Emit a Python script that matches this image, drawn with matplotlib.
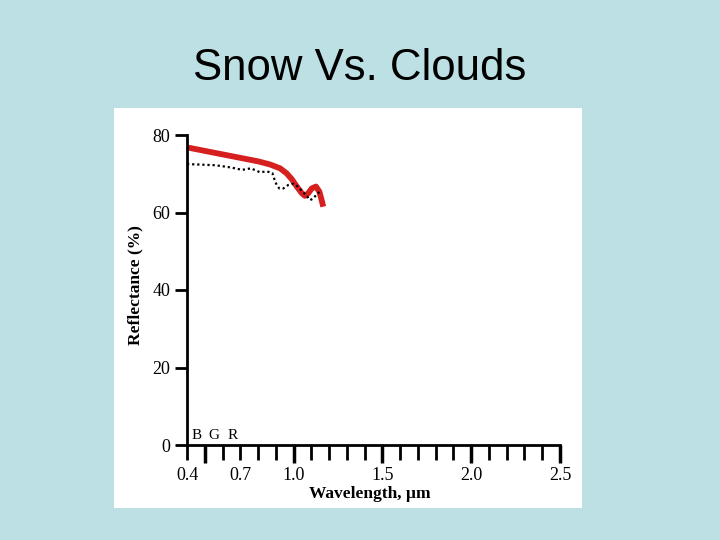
import numpy as np
import matplotlib
matplotlib.use('Agg')
import matplotlib.pyplot as plt
from matplotlib.patches import Rectangle

# Reflectance curves
snow_wl = [0.40, 0.60, 0.80, 0.867, 0.924, 0.961, 0.990, 1.018, 1.046, 1.064,
           1.083, 1.102, 1.126, 1.145, 1.158, 1.167]
snow_refl = [76.8, 75.0, 73.2, 72.4, 71.4, 70.1, 68.6, 66.7, 65.0, 64.3,
             65.0, 66.2, 66.7, 65.4, 63.2, 61.5]

cloud_wl = [0.40, 0.56, 0.65, 0.71, 0.76, 0.81, 0.85, 0.88, 0.895, 0.905, 0.92,
            0.942, 0.97, 0.999, 1.021, 1.046, 1.074, 1.093, 1.111, 1.13, 1.145]
cloud_refl = [72.5, 72.2, 71.6, 71.0, 71.4, 70.4, 70.6, 70.2, 68.2, 67.1, 66.2,
              66.2, 67.1, 67.4, 66.8, 65.6, 64.3, 63.2, 63.6, 64.7, 65.3]

xtick_labels = ['0.4', '0.7', '1.0', '1.5', '2.0', '2.5']
xtick_pos = [0.4, 0.7, 1.0, 1.5, 2.0, 2.5]
yticks = [0, 20, 40, 60, 80]
bands = ['B', 'G', 'R']
band_pos = [0.456, 0.552, 0.659]

serif = 'Liberation Serif'

fig = plt.figure(figsize=(7.2, 5.4), dpi=100)
fig.patch.set_facecolor('#bce0e4')
fig.patches.append(Rectangle((114 / 720, 32 / 540), 468 / 720, 400 / 540,
                             transform=fig.transFigure, facecolor='white',
                             edgecolor='none', zorder=-5))

fig.text(0.5, 1 - 68 / 540, 'Snow Vs. Clouds', ha='center', va='center',
         fontsize=31.5, family='Liberation Sans')

ax = fig.add_axes([187 / 720, 95 / 540, 373 / 720, 310 / 540])
ax.set_facecolor('none')
ax.set_xlim(0.4, 2.5)
ax.set_ylim(0, 80)

ax.plot(snow_wl, snow_refl, color='#d61f1f', lw=4.2, solid_capstyle='butt',
        solid_joinstyle='round', clip_on=False)
ax.plot(cloud_wl, cloud_refl, color='black', lw=1.6, ls=(0, (1, 1.3)), clip_on=False)

for s in ['top', 'right']:
    ax.spines[s].set_visible(False)
for s in ['left', 'bottom']:
    ax.spines[s].set_linewidth(2)

# y ticks point left
ax.set_yticks(yticks)
ax.set_yticklabels([str(v) for v in yticks], family=serif, fontsize=13)
ax.tick_params(axis='y', direction='out', length=9, width=2, pad=3)

# x ticks: minor every 0.1, long ones at each 0.5
ax.set_xticks([0.5, 1.0, 1.5, 2.0, 2.5])
ax.set_xticklabels([])
ax.set_xticks(np.arange(0.4, 2.51, 0.1), minor=True)
ax.tick_params(axis='x', which='major', direction='out', length=13, width=2.5)
ax.tick_params(axis='x', which='minor', direction='out', length=11, width=2)

for p, lab in zip(xtick_pos, xtick_labels):
    ax.text(p, -0.1, lab, transform=ax.get_xaxis_transform(), ha='center',
            va='center', family=serif, fontsize=13)

for p, b in zip(band_pos, bands):
    ax.text(p, 2.5, b, ha='center', va='center', family=serif, fontsize=11)

ax.set_xlabel('Wavelength, \u00b5m', family=serif, fontsize=12.5, fontweight='bold')
ax.xaxis.set_label_coords(0.49, -0.132)
ax.set_ylabel('Reflectance (%)', family=serif, fontsize=12.5, fontweight='bold')
ax.yaxis.set_label_coords(-0.118, 0.516)

plt.savefig('out.png', dpi=100, facecolor=fig.get_facecolor())
